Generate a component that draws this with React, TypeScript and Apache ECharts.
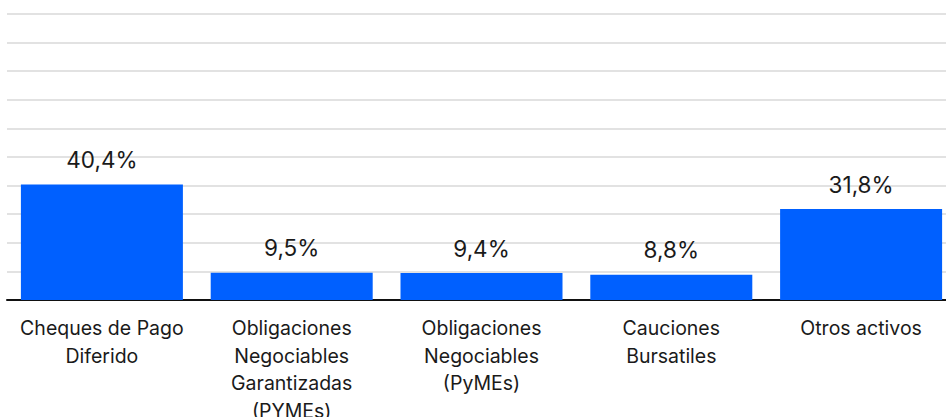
import React, { useEffect, useRef } from "react";
import * as echarts from "echarts";

const categories = [
  "Cheques de Pago\nDiferido",
  "Obligaciones\nNegociables\nGarantizadas\n(PYMEs)",
  "Obligaciones\nNegociables\n(PyMEs)",
  "Cauciones\nBursatiles",
  "Otros activos",
];
const values = [40.4, 9.5, 9.4, 8.8, 31.8];
const yMin = 0;
const yMax = 100;
const yInterval = 10;

const FONT = "Inter, Roboto, 'Liberation Sans', sans-serif";

export default function App() {
  const ref = useRef<HTMLDivElement>(null);
  useEffect(() => {
    if (!ref.current) return;
    const chart = echarts.init(ref.current, undefined, { renderer: "svg" });
    chart.setOption({
      animation: false,
      backgroundColor: "#ffffff",
      grid: {
        left: 7,
        top: 14,
        width: 949,
        height: 286,
        containLabel: false,
        outerBoundsMode: "none",
      },
      xAxis: {
        type: "category",
        data: categories,
        axisLine: { show: true, lineStyle: { color: "#111111", width: 2 } },
        axisTick: { show: false },
        axisLabel: {
          color: "#1a1a1a",
          fontFamily: FONT,
          fontSize: 19.5,
          lineHeight: 27.7,
          margin: 14,
          interval: 0,
          align: "center",
        },
      },
      yAxis: {
        type: "value",
        min: yMin,
        max: yMax,
        interval: yInterval,
        axisLine: { show: false },
        axisTick: { show: false },
        axisLabel: { show: false },
        splitLine: { show: true, lineStyle: { color: "#d9d9d9", width: 1.5 } },
      },
      series: [
        {
          type: "bar",
          data: values,
          barWidth: 162,
          itemStyle: { color: "#0060ff" },
          label: {
            show: true,
            position: "top",
            distance: 14,
            color: "#1a1a1a",
            fontFamily: FONT,
            fontSize: 22.5,
            lineHeight: 22,
            formatter: (p: any) => p.value.toFixed(1).replace(".", ",") + "%",
          },
        },
      ],
    });
    return () => chart.dispose();
  }, []);
  return (
    <div
      style={{
        position: "absolute",
        left: 0,
        top: 0,
        width: 946,
        height: 417,
        overflow: "hidden",
        background: "#fff",
      }}
    >
      <div ref={ref} style={{ width: 960, height: 417 }} />
    </div>
  );
}
